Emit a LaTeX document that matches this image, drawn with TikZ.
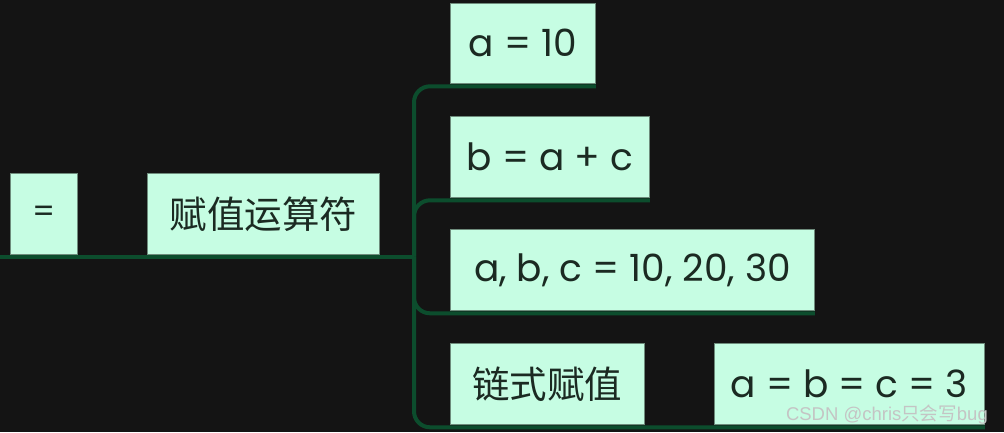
\documentclass[tikz,border=0pt]{standalone}
\usepackage{fontspec}
\setmainfont{Poppins}
\newfontfamily\cjk{Noto Sans CJK SC}
\newfontfamily\wmfont{Liberation Sans}
\definecolor{bg}{HTML}{141414}
\definecolor{mint}{HTML}{C6FDE3}
\definecolor{boxline}{HTML}{6E8C7C}
\definecolor{linkgreen}{HTML}{0C4D2D}
\definecolor{ink}{HTML}{1B2A22}
\definecolor{wmgray}{HTML}{C4C4C4}
\begin{document}
\begin{tikzpicture}[x=1pt,y=-1pt,
  box/.style={draw=boxline, line width=0.8pt, fill=mint, text=ink, inner sep=0pt,
    anchor=north west, font=\fontsize{37.5}{44}\selectfont},
  cjkbox/.style={box, font=\cjk\fontsize{37.5}{44}\selectfont},
  link/.style={draw=linkgreen, line width=4pt, rounded corners=16pt}]
\fill[bg] (0,0) rectangle (1004,432);
\useasboundingbox (0,0) rectangle (1004,432);

\node[box, minimum width=67pt, minimum height=81pt, font=\fontsize{32}{40}\selectfont] (eq) at (10,173) {=};
\node[cjkbox, minimum width=232pt, minimum height=81pt] (root) at (147,173) {赋值运算符};
\node[box, minimum width=145pt, minimum height=80pt] (n1) at (450,3) {a = 10};
\node[box, minimum width=199pt, minimum height=81pt] (n2) at (450,116) {b = a + c};
\node[box, minimum width=364pt, minimum height=81pt] (n3) at (450,229) {a, b, c = 10, 20, 30};
\node[cjkbox, minimum width=194pt, minimum height=81pt] (n4) at (450,343) {链式赋值};
\node[box, minimum width=270pt, minimum height=81pt] (n5) at (714,343) {a = b = c = 3};

\coordinate (start) at (0,256.5);
\coordinate (hub) at (414,256.5);
\draw[link] (start) -- (hub);
\draw[link] (hub) |- ([yshift=-2.5pt]n1.south east);
\draw[link] (hub) |- ([yshift=-2.5pt]n2.south east);
\draw[link] (hub) |- ([yshift=-2.5pt]n3.south east);
\draw[link] (hub) |- ([yshift=-2.5pt]n5.south east);

\node[anchor=base east, text=wmgray, inner sep=0pt, font=\wmfont\fontsize{18.5}{22}\selectfont] (wm) at (988,420) {CSDN @chris{\cjk 只会写}bug};
\end{tikzpicture}
\end{document}
